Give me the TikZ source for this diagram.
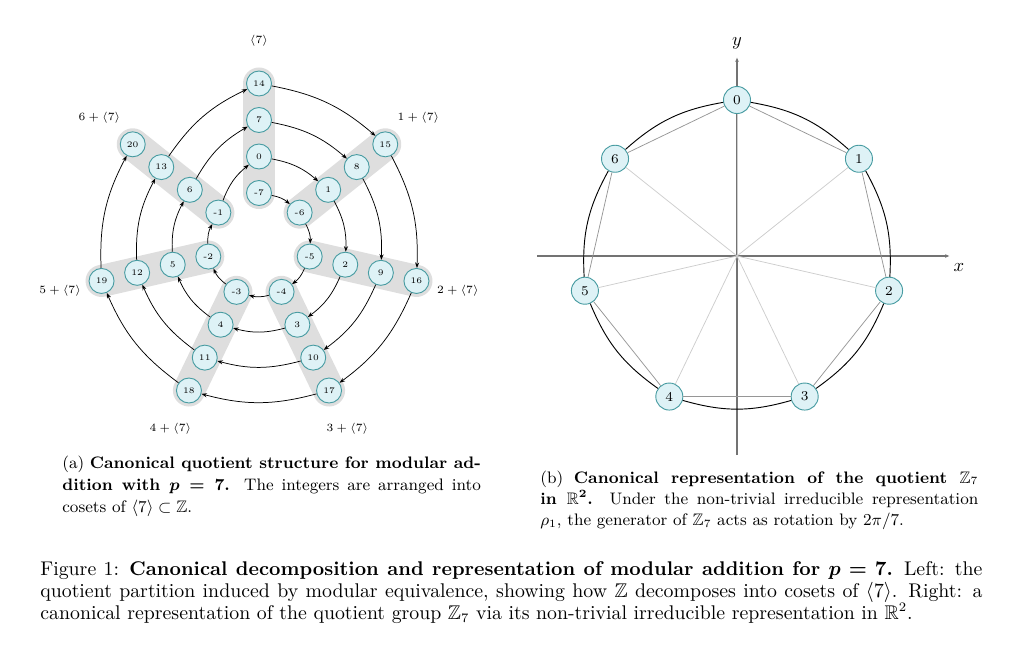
\documentclass[tikz,border=0pt]{standalone}
\usepackage{amsmath, amssymb, bm}
\usepackage{xcolor}
\usepackage{tikz}
\usetikzlibrary{arrows.meta, positioning, calc}
\definecolor{NodeFill}{RGB}{222, 242, 246}
\definecolor{NodeEdge}{RGB}{72, 156, 162}
\definecolor{BandGray}{RGB}{222, 222, 222}
\definecolor{SpokeGray}{RGB}{205, 205, 205}
\definecolor{ChordGray}{RGB}{150, 150, 150}
\definecolor{AxisGray}{RGB}{115, 115, 115}

\tikzset{
  elem/.style={circle, fill=NodeFill, draw=NodeEdge, line width=0.5pt,
    minimum size=13.5pt, inner sep=0pt, font=\fontsize{4.6}{5}\selectfont},
  rep/.style={elem, minimum size=14.6pt, font=\fontsize{7.3}{8}\selectfont},
  band/.style={draw=BandGray, line width=17.3pt, line cap=round},
  succ/.style={-{Stealth[length=3pt, width=2.2pt]}, line width=0.4pt},
  cosetlbl/.style={font=\fontsize{5.8}{6.5}\selectfont},
  axis/.style={draw=AxisGray, line width=0.6pt, -{Latex[length=2.6pt, width=2pt]}},
  spoke/.style={draw=SpokeGray, line width=0.4pt},
  chord/.style={draw=ChordGray, line width=0.4pt},
  arcline/.style={draw=black, line width=0.5pt},
  capt/.style={inner sep=0pt, anchor=base west, align=justify}
}

\begin{document}
\begin{tikzpicture}[x=0.54pt, y=0.54pt]
\useasboundingbox (0,0) rectangle (1024,-649);

% left: Z laid out in the cosets of <7>
\begin{scope}[shift={(259,-245)}]
  \foreach \j in {0,...,6}
    \draw[band] ({90-\j*360/7}:52) -- ({90-\j*360/7}:161.5);
  \foreach \n in {-7,...,20} {
    \pgfmathtruncatemacro{\k}{floor(\n/7)}
    \pgfmathtruncatemacro{\j}{\n-7*\k}
    \node[elem] (z\n) at ({90-\j*360/7}:{88.5+36.5*\k}) {\n};
  }
  \foreach \n in {-7,...,19} {
    \pgfmathtruncatemacro{\m}{\n+1}
    \draw[succ] (z\n) to[bend left=15] (z\m);
  }
  \node[cosetlbl] (c0) at (90:204) {$\langle 7\rangle$};
  \foreach \j in {1,...,6}
    \node[cosetlbl] (c\j) at ({90-\j*360/7}:204) {$\j+\langle 7\rangle$};
\end{scope}

% right: Z_7 acting on R^2
\begin{scope}[shift={(737,-256)}]
  \coordinate (O) at (0,0);
  \coordinate (xa) at (-200,0);
  \coordinate (xb) at (213,0);
  \coordinate (ya) at (0,-199);
  \coordinate (yb) at (0,199);
  \draw[axis] (xa) -- (xb);
  \draw[axis] (ya) -- (yb);
  \node (xlbl) at (222,-12) {$x$};
  \node (ylbl) at (0,213) {$y$};
  \foreach \j in {0,...,6}
    \node[rep] (r\j) at ({90-\j*360/7}:156) {\j};
  \foreach \j in {0,...,6} {
    \pgfmathtruncatemacro{\i}{mod(\j+1,7)}
    \draw[spoke] (O) -- (r\j);
    \draw[chord] (r\j) -- (r\i);
    \draw[arcline] (r\j) to[bend left=16] (r\i);
  }
\end{scope}

% captions
\node[capt, text width=226pt, font=\fontsize{9}{11.9}\selectfont] (capa) at (62,-468) {%
  (a) \textbf{Canonical quotient structure for modular ad-}\linebreak
  \textbf{dition with {\boldmath$p=7$}.} The integers are arranged into
  cosets of $\langle 7\rangle\subset\mathbb{Z}$.};
\node[capt, text width=236.5pt, font=\fontsize{9}{11.6}\selectfont] (capb) at (540,-483) {%
  (b) \textbf{Canonical representation of the quotient $\mathbb{Z}_7$\linebreak
  in {\boldmath$\mathbb{R}^2$}.} Under the non-trivial irreducible
  representation\linebreak $\rho_1$, the generator of $\mathbb{Z}_7$ acts as
  rotation by $2\pi/7$.};
\node[capt, text width=508.7pt, font=\fontsize{10.7}{11.9}\selectfont] (capmain) at (40,-575) {%
  Figure 1: \textbf{Canonical decomposition and representation of
  modular addition for {\boldmath$p=7$}.} Left: the\linebreak quotient partition
  induced by modular equivalence, showing how $\mathbb{Z}$ decomposes
  into cosets of $\langle 7\rangle$. Right: a\linebreak canonical representation
  of the quotient group $\mathbb{Z}_7$ via its non-trivial irreducible
  representation in $\mathbb{R}^2$.};
\end{tikzpicture}
\end{document}
